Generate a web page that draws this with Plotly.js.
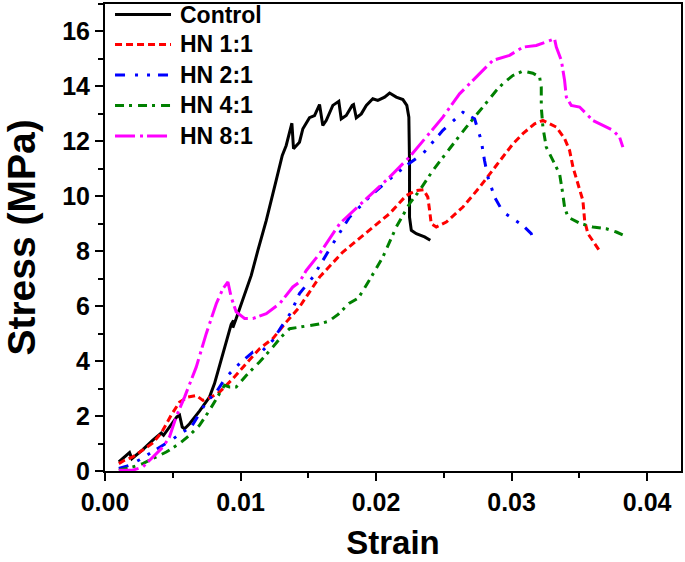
<!DOCTYPE html>
<html>
<head>
<meta charset="utf-8">
<script src="https://cdn.plot.ly/plotly-3.0.1.min.js"></script>
<style>
  html, body { margin: 0; padding: 0; background: #ffffff; }
  #chart { width: 685px; height: 562px; }
</style>
</head>
<body>
<div id="chart"></div>
<script>
// ---- Data ----
const seriesNames = ["Control", "HN 1:1", "HN 2:1", "HN 4:1", "HN 8:1"];

const controlStrain = [0.00102, 0.00181, 0.00198, 0.00279, 0.00353, 0.00415, 0.00432, 0.00488, 0.0053, 0.0055, 0.0057, 0.00587, 0.00624, 0.00697, 0.00747, 0.00771, 0.00808, 0.0087, 0.00907, 0.00931, 0.00948, 0.00943, 0.00968, 0.01017, 0.01079, 0.01128, 0.0119, 0.01263, 0.01308, 0.01337, 0.01379, 0.01391, 0.01435, 0.0146, 0.01509, 0.01546, 0.01583, 0.01607, 0.01632, 0.01681, 0.01725, 0.01743, 0.0178, 0.01824, 0.01834, 0.01854, 0.01891, 0.01928, 0.01976, 0.02013, 0.02063, 0.021, 0.02149, 0.02198, 0.02227, 0.02242, 0.02247, 0.02247, 0.0226, 0.02297, 0.02358, 0.024];
const controlStress = [0.33, 0.67, 0.45, 0.78, 1.12, 1.38, 1.30, 1.66, 1.97, 2.03, 1.60, 1.54, 1.72, 2.18, 2.51, 2.69, 3.18, 4.27, 5.0, 5.34, 5.48, 5.22, 5.55, 6.21, 7.12, 8.03, 9.12, 10.58, 11.49, 11.85, 12.66, 11.73, 11.97, 12.46, 12.86, 12.94, 13.34, 12.58, 12.76, 13.31, 13.46, 12.82, 12.94, 13.31, 13.34, 12.86, 13.0, 13.31, 13.55, 13.49, 13.61, 13.76, 13.61, 13.52, 13.31, 12.88, 11.19, 9.24, 8.76, 8.64, 8.52, 8.40];

const hn11Strain = [0.00102, 0.00144, 0.00205, 0.00279, 0.00353, 0.00415, 0.00488, 0.0055, 0.00611, 0.00673, 0.00722, 0.00784, 0.00845, 0.00943, 0.01042, 0.0114, 0.01238, 0.01337, 0.01435, 0.01583, 0.01755, 0.0195, 0.021, 0.02223, 0.02297, 0.0235, 0.02382, 0.02395, 0.02407, 0.02444, 0.02518, 0.02641, 0.02764, 0.02887, 0.0301, 0.03083, 0.0317, 0.03231, 0.0333, 0.03391, 0.03428, 0.03453, 0.03489, 0.03526, 0.03539, 0.03563, 0.03613, 0.03655];
const hn11Stress = [0.27, 0.39, 0.51, 0.75, 1.02, 1.38, 2.03, 2.51, 2.69, 2.75, 2.57, 2.69, 2.87, 3.36, 3.91, 4.45, 4.82, 5.42, 5.97, 7.06, 7.97, 8.76, 9.37, 10.03, 10.21, 10.24, 9.97, 9.49, 9.0, 8.88, 9.06, 9.61, 10.33, 11.12, 11.91, 12.28, 12.64, 12.76, 12.52, 12.10, 11.67, 11.06, 10.46, 9.85, 9.12, 8.64, 8.28, 7.97];

const hn21Strain = [0.00102, 0.00181, 0.00255, 0.00328, 0.00415, 0.00488, 0.00574, 0.00636, 0.00697, 0.00747, 0.00821, 0.00894, 0.00993, 0.01091, 0.01165, 0.01238, 0.013, 0.01374, 0.01435, 0.01534, 0.01681, 0.01804, 0.0195, 0.02075, 0.02223, 0.02345, 0.02493, 0.02641, 0.02727, 0.02776, 0.028, 0.02825, 0.02875, 0.02936, 0.0301, 0.03083, 0.03145, 0.0317];
const hn21Stress = [0.09, 0.21, 0.41, 0.63, 0.87, 1.12, 1.42, 1.60, 2.09, 2.51, 2.87, 3.42, 3.91, 4.33, 4.39, 4.76, 5.24, 5.79, 6.46, 7.06, 8.27, 9.24, 9.97, 10.52, 11.12, 11.55, 12.4, 13.06, 12.82, 12.03, 11.31, 10.70, 9.97, 9.43, 9.18, 8.94, 8.64, 8.33];

const hn41Strain = [0.00102, 0.00205, 0.00279, 0.00353, 0.00452, 0.0055, 0.00624, 0.00697, 0.00771, 0.00845, 0.00882, 0.00919, 0.00968, 0.01042, 0.0114, 0.01238, 0.013, 0.01362, 0.01435, 0.0150, 0.0158, 0.0165, 0.0172, 0.0180, 0.0187, 0.0195, 0.0205, 0.02149, 0.02247, 0.02321, 0.02419, 0.02542, 0.02666, 0.02788, 0.02887, 0.02936, 0.0301, 0.03083, 0.03157, 0.03207, 0.03219, 0.03219, 0.03231, 0.03256, 0.03305, 0.03354, 0.03374, 0.03391, 0.03416, 0.03502, 0.036, 0.03699, 0.03773, 0.03846];
const hn41Stress = [0.03, 0.15, 0.27, 0.45, 0.69, 1.0, 1.30, 1.66, 2.21, 2.82, 3.12, 3.06, 3.06, 3.48, 3.97, 4.51, 4.88, 5.18, 5.24, 5.3, 5.35, 5.45, 5.7, 6.1, 6.3, 6.94, 7.79, 8.88, 9.73, 10.21, 10.94, 11.73, 12.52, 13.25, 13.85, 14.1, 14.4, 14.56, 14.48, 14.34, 13.97, 13.25, 12.52, 11.79, 11.31, 10.82, 10.21, 9.61, 9.24, 9.02, 8.88, 8.82, 8.70, 8.54];

const hn81Strain = [0.00102, 0.00205, 0.0028, 0.00353, 0.00427, 0.00476, 0.00525, 0.00587, 0.00673, 0.00747, 0.00821, 0.0087, 0.00907, 0.00931, 0.00968, 0.0103, 0.01091, 0.0119, 0.01288, 0.01386, 0.01435, 0.01485, 0.01583, 0.01731, 0.01928, 0.021, 0.02247, 0.0237, 0.02493, 0.02616, 0.02739, 0.02862, 0.02985, 0.03083, 0.03182, 0.03256, 0.03317, 0.0333, 0.03367, 0.03391, 0.03404, 0.0344, 0.03502, 0.036, 0.03674, 0.03748, 0.03797, 0.03821];
const hn81Stress = [0.03, 0.03, 0.15, 0.51, 0.87, 1.24, 1.97, 2.69, 3.78, 5.0, 6.09, 6.64, 6.88, 6.33, 5.79, 5.55, 5.55, 5.73, 6.09, 6.70, 6.88, 7.30, 7.91, 9.0, 9.91, 10.70, 11.43, 12.15, 12.88, 13.73, 14.34, 14.95, 15.13, 15.43, 15.49, 15.61, 15.73, 15.43, 14.95, 14.22, 13.61, 13.31, 13.25, 12.76, 12.58, 12.40, 12.15, 11.79];

const xTickVals = [0, 0.01, 0.02, 0.03, 0.04];
const xTickText = ["0.00", "0.01", "0.02", "0.03", "0.04"];
const yTickVals = [0, 2, 4, 6, 8, 10, 12, 14, 16];
const yTickText = ["0", "2", "4", "6", "8", "10", "12", "14", "16"];

// ---- Styles ----
const FONT = "Liberation Sans, Arial, Helvetica, sans-serif";
const styles = [
  {color: "#000000", dash: "solid"},
  {color: "#ff0000", dash: "7px,4px"},
  {color: "#0000ff", dash: "10px,10px,3px,9px,3px,8px"},
  {color: "#008000", dash: "9px,5px,3px,6px"},
  {color: "#ff00ff", dash: "20px,5px,3px,4px"}
];
const xs = [controlStrain, hn11Strain, hn21Strain, hn41Strain, hn81Strain];
const ys = [controlStress, hn11Stress, hn21Stress, hn41Stress, hn81Stress];

const traces = seriesNames.map((name, i) => ({
  type: "scatter",
  mode: "lines",
  name: name,
  x: xs[i],
  y: ys[i],
  line: {color: styles[i].color, width: 3, dash: styles[i].dash}
}));

// ---- Legend drawn inside the plot (top-left), in paper coordinates ----
const legendLineX0 = 0.0174, legendLineX1 = 0.1146, legendTextX = 0.1267;
const legendRowY = [0.9775, 0.9133, 0.8480, 0.7827, 0.7173];
const shapes = seriesNames.map((name, i) => ({
  type: "line", xref: "paper", yref: "paper",
  x0: legendLineX0, x1: legendLineX1, y0: legendRowY[i], y1: legendRowY[i],
  line: {color: styles[i].color, width: 3, dash: styles[i].dash}
}));
const annotations = seriesNames.map((name, i) => ({
  xref: "paper", yref: "paper", x: legendTextX, y: legendRowY[i],
  xanchor: "left", yanchor: "middle", showarrow: false, text: name,
  font: {family: FONT, size: 23, color: "#000000", weight: "bold"}
}));

const axisCommon = {
  showgrid: false,
  zeroline: false,
  showline: true,
  linecolor: "#000000",
  linewidth: 2,
  mirror: true,
  ticks: "outside",
  ticklen: 8,
  tickwidth: 2,
  tickcolor: "#000000",
  tickfont: {family: FONT, size: 25, color: "#000000", weight: "bold"}
};

const layout = {
  width: 685,
  height: 562,
  margin: {l: 105, r: 4, t: 4, b: 91, pad: 0},
  paper_bgcolor: "#ffffff",
  plot_bgcolor: "#ffffff",
  font: {family: FONT, color: "#000000"},
  showlegend: false,
  shapes: shapes,
  annotations: annotations,
  xaxis: Object.assign({}, axisCommon, {
    range: [0, 0.0425],
    tickmode: "array",
    tickvals: xTickVals,
    ticktext: xTickText,
    minor: {dtick: 0.005, tick0: 0, ticks: "outside", ticklen: 5, tickwidth: 2, tickcolor: "#000000"},
    title: {text: "Strain", font: {family: FONT, size: 33, color: "#000000", weight: "bold"}, standoff: 16}
  }),
  yaxis: Object.assign({}, axisCommon, {
    range: [0, 17],
    tickmode: "array",
    tickvals: yTickVals,
    ticktext: yTickText,
    minor: {dtick: 1, tick0: 0, ticks: "outside", ticklen: 5, tickwidth: 2, tickcolor: "#000000"},
    title: {text: "Stress (MPa)", font: {family: FONT, size: 39, color: "#000000", weight: "bold"}, standoff: 18}
  })
};

Plotly.newPlot("chart", traces, layout, {staticPlot: true, displayModeBar: false});
</script>
</body>
</html>
